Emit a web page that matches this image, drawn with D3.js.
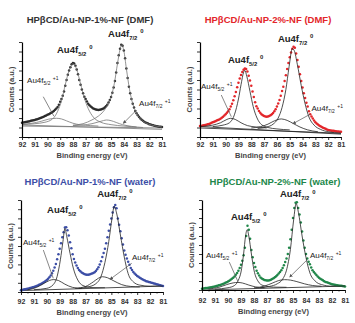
<!DOCTYPE html>
<html lang="en">
<head>
<meta charset="UTF-8">
<title>XPS Au4f</title>
<script src="https://cdn.jsdelivr.net/npm/d3@7"></script>
<style>
    body { margin: 0; background: #fff; }
    text { font-family: "Liberation Sans", Arial, sans-serif; }
</style>
</head>
<body>
<script type="text/javascript">
    // binding energy of each measured point (eV)
    var energy = [
        92, 91.9, 91.8, 91.7, 91.6, 91.5, 91.4, 91.3, 91.2, 91.1,
        91, 90.9, 90.8, 90.7, 90.6, 90.5, 90.4, 90.3, 90.2, 90.1,
        90, 89.9, 89.8, 89.7, 89.6, 89.5, 89.4, 89.3, 89.2, 89.1,
        89, 88.9, 88.8, 88.7, 88.6, 88.5, 88.4, 88.3, 88.2, 88.1,
        88, 87.9, 87.8, 87.7, 87.6, 87.5, 87.4, 87.3, 87.2, 87.1,
        87, 86.9, 86.8, 86.7, 86.6, 86.5, 86.4, 86.3, 86.2, 86.1,
        86, 85.9, 85.8, 85.7, 85.6, 85.5, 85.4, 85.3, 85.2, 85.1,
        85, 84.9, 84.8, 84.7, 84.6, 84.5, 84.4, 84.3, 84.2, 84.1,
        84, 83.9, 83.8, 83.7, 83.6, 83.5, 83.4, 83.3, 83.2, 83.1,
        83, 82.9, 82.8, 82.7, 82.6, 82.5, 82.4, 82.3, 82.2, 82.1,
        82, 81.9, 81.8, 81.7, 81.6, 81.5, 81.4, 81.3, 81.2, 81.1,
        81];
    var xTicks = [92, 91, 90, 89, 88, 87, 86, 85, 84, 83, 82, 81];

    // measured counts (a.u.)
    var dmf1Counts = [
        15, 15.2, 15.5, 15.8, 16.1, 16.4, 16.7, 17, 17.3, 17.6,
        18, 18.4, 18.8, 19.2, 19.7, 20.2, 20.8, 21.4, 22, 22.6,
        23.3, 24, 24.7, 25.5, 26.4, 27.4, 28.6, 30, 31.7, 34,
        37, 40, 43.5, 48, 54, 60, 65.5, 70, 73.5, 76.5,
        78, 77.5, 75, 71, 66, 60, 55, 50, 46, 42.5,
        40, 37.5, 35, 33.5, 32, 31, 30.1, 29.4, 28.9, 28.6,
        28.5, 28.6, 28.9, 29.4, 30.1, 31, 32.3, 34, 36.2, 39,
        42, 46.5, 52, 59, 68, 78, 86, 93, 97, 96,
        91, 83, 72, 62, 53, 46, 40, 35, 31, 27.5,
        25, 23, 21, 19.5, 18.2, 17, 16.1, 15.3, 14.7, 14.1,
        13.5, 13.1, 12.7, 12.3, 11.9, 11.5, 11.3, 11.1, 10.9, 10.7,
        10.5];
    var dmf2Counts = [
        11.5, 11.7, 12, 12.3, 12.6, 13, 13.4, 13.8, 14.3, 14.9,
        15.5, 16.1, 16.7, 17.3, 17.9, 18.5, 19.3, 20.3, 21.4, 22.6,
        24, 25.5, 27.2, 29.3, 32, 35, 38.8, 43, 47.5, 52.3,
        57, 61.5, 65.3, 68.5, 70.8, 72, 71.5, 69, 64.5, 59.5,
        54, 48, 42, 36.5, 32.5, 30, 27.5, 25.5, 24, 23,
        22, 21.6, 21.4, 21.5, 22, 23, 24, 25.3, 27, 29.3,
        32, 35.3, 39, 43.5, 48.5, 53, 59, 65, 71.5, 78,
        84, 89, 93, 95, 94, 88, 81, 74, 66, 59,
        52, 46, 41, 36, 32, 27, 24, 21.5, 19.5, 17.5,
        15.5, 14.3, 13.1, 12.1, 11.2, 10.5, 9.8, 9.2, 8.6, 8,
        7.5, 7.2, 6.9, 6.7, 6.5, 6.3, 6.1, 5.9, 5.7, 5.6,
        5.5];
    var water1Counts = [
        2, 2.3, 2.6, 2.9, 3.2, 3.5, 3.9, 4.3, 4.7, 5.1,
        5.5, 6, 6.5, 7.1, 7.8, 8.5, 9.3, 10.1, 11, 12,
        13, 14.4, 16, 18, 20.3, 23, 26.5, 30.5, 35.5, 41,
        47, 53, 59.5, 65, 70, 70.5, 67, 61.5, 54, 47.5,
        41, 36, 32, 28.7, 26, 24, 22.5, 21.3, 20.3, 19.6,
        19, 18.8, 18.8, 19, 19.5, 20, 20.7, 21.6, 22.9, 24.7,
        27, 30, 33.5, 38, 42.5, 47, 53, 59.5, 66.5, 73.5,
        80, 86.5, 92, 94.5, 91, 80, 73, 66, 58.5, 51.5,
        45, 40.5, 36.5, 33, 29.5, 26, 23.8, 21.8, 20.2, 18.8,
        17.5, 16.5, 15.5, 14.6, 13.8, 13, 12.4, 11.8, 11.3, 10.9,
        10.5, 10.1, 9.7, 9.3, 8.9, 8.5, 8.1, 7.7, 7.3, 6.9,
        6.5];
    var water2Counts = [
        1.5, 1.7, 1.9, 2.1, 2.3, 2.5, 2.8, 3.1, 3.4, 3.7,
        4, 4.4, 4.8, 5.2, 5.6, 6, 6.6, 7.3, 8, 8.7,
        9.5, 10.4, 11.4, 12.5, 13.7, 15, 17, 19, 21.5, 24.5,
        28, 32.5, 38.5, 47, 60, 71.5, 67, 57, 44.5, 36.5,
        30, 25.5, 21.5, 18.5, 16, 14, 12.8, 11.9, 11.2, 10.8,
        10.5, 10.6, 10.9, 11.5, 12.2, 13, 14.1, 15.3, 16.7, 18.2,
        20, 22, 24.5, 27.5, 31, 35, 40, 47, 56.5, 67,
        80, 91, 97, 97.5, 91, 84, 75, 65, 55, 47,
        40, 35, 31.5, 28.5, 25, 22, 20, 18.3, 16.7, 15.1,
        13.5, 12.5, 11.6, 10.7, 9.8, 9, 8.5, 8, 7.5, 7,
        6.5, 6.2, 5.9, 5.6, 5.3, 5, 4.8, 4.6, 4.4, 4.2,
        4];

    // fitted components [eV, counts]
    var dmf1Fit52 = [[92, 13], [91, 14], [90.2, 15.5], [89.6, 19], [89.2, 27], [88.9, 38], [88.6, 55], [88.3, 70],
        [88, 77], [87.7, 71], [87.4, 56], [87.1, 41], [86.8, 30], [86.4, 21], [85.8, 15.5], [85, 13], [84, 11.5], [83, 10.5]];
    var dmf1Fit72 = [[88, 12.5], [87.2, 14], [86.5, 18], [86, 22], [85.6, 27], [85.3, 33], [85, 42], [84.75, 56],
        [84.5, 77], [84.3, 92], [84.17, 97], [84, 91], [83.8, 72], [83.55, 50], [83.3, 35], [83, 25], [82.7, 19],
        [82.3, 15], [81.8, 12.5], [81, 10.5]];
    var dmf1Sat52 = [[92, 13.5], [91.2, 14.5], [90.5, 16.5], [89.9, 18.8], [89.3, 19.7], [88.9, 19], [88.5, 17],
        [88, 14.5], [87.4, 12.8], [86.6, 12], [86, 11.5]];
    var dmf1Sat72 = [[88, 12], [87.2, 12.6], [86.5, 14], [86, 15.8], [85.6, 17.3], [85.35, 17.9], [85, 17.2],
        [84.6, 15.3], [84.1, 13], [83.4, 11.2], [82.5, 10]];
    var dmf1Bg = [[[92, 12.6], [81, 8]], [[92, 11.5], [81, 9.5]]];

    var dmf2Fit52 = [[91, 11], [90.2, 12.5], [89.7, 15], [89.3, 24], [89, 40], [88.8, 55], [88.6, 68], [88.5, 70],
        [88.35, 64], [88.1, 48], [87.85, 32], [87.55, 20], [87.2, 13], [86.7, 10], [86, 8.5], [85, 7.5]];
    var dmf2Fit72 = [[87.5, 9], [86.8, 10.5], [86.3, 13.5], [85.9, 20], [85.6, 31], [85.3, 50], [85.05, 74], [84.8, 93],
        [84.65, 91], [84.4, 76], [84.1, 54], [83.8, 35], [83.5, 21], [83.1, 12.5], [82.6, 8], [82, 5.5], [81, 4]];
    var dmf2Sat52 = [[92, 11], [91, 12.5], [90.4, 15], [89.9, 18.5], [89.6, 19.7], [89.25, 18.5], [88.8, 15], [88.3, 12],
        [87.6, 10.5], [86.8, 9.5]];
    var dmf2Sat72 = [[88, 9.5], [87.3, 10.8], [86.7, 13.5], [86.2, 17], [85.65, 19], [85.2, 17.5], [84.7, 14], [84.2, 10.5],
        [83.6, 7.5], [82.8, 5.5]];
    var dmf2Bg = [[[92, 11], [81, 3]], [[92, 9.5], [81, 4]]];

    var water1Fit52 = [[91, 2.5], [90, 4], [89.5, 8], [89.2, 17], [88.95, 35], [88.75, 55], [88.6, 69], [88.45, 60],
        [88.2, 42], [87.95, 26], [87.6, 13], [87.2, 7], [86.5, 4.8], [85.5, 4.6]];
    var water1Fit72 = [[87.5, 4], [86.8, 5.5], [86.2, 9], [85.8, 17], [85.5, 32], [85.2, 55], [84.95, 80], [84.78, 93],
        [84.6, 86], [84.3, 62], [84, 38], [83.7, 20], [83.3, 11], [82.8, 7.5], [82, 6.3], [81, 6.5]];
    var water1Sat52 = [[91.5, 2.3], [90.8, 5], [90.2, 9.5], [89.8, 12.5], [89.5, 13.5], [89.1, 12.5], [88.6, 8.5],
        [88, 5], [87.3, 3.8]];
    var water1Sat72 = [[87.8, 4], [87, 6], [86.4, 11], [86, 15], [85.7, 16.6], [85.3, 15.5], [84.8, 12], [84.2, 8],
        [83.5, 6], [82.8, 5.5]];
    var water1Bg = [[[92, 1.5], [81, 6.5]]];

    var water2Fit52 = [[91, 1], [90, 2.5], [89.5, 5], [89.2, 11], [89, 20], [88.8, 40], [88.65, 60], [88.52, 67],
        [88.4, 60], [88.2, 40], [88, 22], [87.7, 10], [87.3, 5], [86.5, 3.2], [85.5, 3]];
    var water2Fit72 = [[87.5, 2.5], [86.8, 4], [86.2, 7], [85.8, 12], [85.5, 22], [85.2, 45], [84.95, 78], [84.76, 96],
        [84.58, 86], [84.3, 60], [84, 36], [83.7, 19], [83.3, 10], [82.8, 6], [82, 4.2], [81, 4.4]];
    var water2Sat52 = [[91.5, 1], [90.7, 3], [90.1, 6], [89.6, 7.9], [89.25, 8.4], [88.9, 7.8], [88.4, 5.5], [87.9, 3.5],
        [87.2, 2.4]];
    var water2Sat72 = [[88, 2.4], [87.2, 4.3], [86.6, 7.6], [86.1, 10.5], [85.65, 11.5], [85.2, 11], [84.7, 9.3],
        [84.1, 6.8], [83.5, 5], [82.8, 4.2]];
    var water2Bg = [[[92, 0], [81, 4.4]]];

    var titles = ['HPβCD/Au-NP-1%-NF (DMF)', 'HPβCD/Au-NP-2%-NF (DMF)',
        'HPβCD/Au-NP-1%-NF (water)', 'HPβCD/Au-NP-2%-NF (water)'];

    var panels = [
        {title: titles[0], color: '#333', dot: '#2b2b2b', fitColor: '#777', counts: dmf1Counts,
            fits: [dmf1Fit52, dmf1Fit72, dmf1Sat52, dmf1Sat72], bg: dmf1Bg,
            box: {left: 22, right: 162, top: 42, bottom: 137}, cx: 90, ty: 23, pad: 2, gap: 21,
            lab52: [89.25, 88.4], lab72: [85.24, 105], sat52: [91.6, 56.8, 90.33, 42.4, 89.5, 22],
            sat72: [82.8, 32.6, 83.0, 28.4, 84.04, 14.4]},
        {title: titles[1], color: '#e3262a', dot: '#e3262a', fitColor: '#222', counts: dmf2Counts,
            fits: [dmf2Fit52, dmf2Fit72, dmf2Sat52, dmf2Sat72], bg: dmf2Bg,
            box: {left: 200, right: 341, top: 42, bottom: 137}, cx: 268, ty: 23, pad: 2, gap: 21,
            lab52: [89.82, 77.9], lab72: [85.92, 100], sat52: [91.92, 50.5, 90.34, 44.2, 89.56, 21.4],
            sat72: [83.3, 27.5, 83.4, 24, 84.75, 14]},
        {title: titles[2], color: '#3c4ea6', dot: '#3c4ea6', fitColor: '#222', counts: water1Counts,
            fits: [water1Fit52, water1Fit72, water1Sat52, water1Sat72], bg: water1Bg,
            box: {left: 21, right: 163, top: 200, bottom: 292}, cx: 90, ty: 185, pad: 4, gap: 23,
            lab52: [89.98, 85.9], lab72: [86.1, 103], sat52: [91.85, 51, 90.27, 45.6, 89.5, 14.9],
            sat72: [83.4, 34.8, 83.42, 31.2, 85.1, 13.8]},
        {title: titles[3], color: '#21874a', dot: '#21874a', fitColor: '#222', counts: water2Counts,
            fits: [water2Fit52, water2Fit72, water2Sat52, water2Sat72], bg: water2Bg,
            box: {left: 202, right: 345, top: 200, bottom: 290}, cx: 275, ty: 185, pad: 5, gap: 24,
            lab52: [89.77, 77.8], lab72: [86.0, 103], sat52: [91.69, 35.6, 89.9, 31, 89.25, 9.8],
            sat72: [83.7, 35.6, 83.95, 33, 85.25, 14.5]}
    ];

    var svg = d3.select('body').append('svg')
            .attr('width', 355)
            .attr('height', 323);

    svg.append('defs').append('marker')
            .attr('id', 'arr')
            .attr('viewBox', '0 0 6 6')
            .attr('refX', 5).attr('refY', 3)
            .attr('markerWidth', 5).attr('markerHeight', 5)
            .attr('orient', 'auto')
            .append('path')
            .attr('d', 'M0,0L6,3L0,6z')
            .attr('fill', '#555');

    function peakLabel(g, px, py, sub, sup, bold, size) {
        var t = g.append('text')
                .attr('x', px).attr('y', py)
                .attr('font-size', size)
                .attr('font-weight', bold ? 'bold' : 'normal')
                .attr('fill', '#222');
        t.append('tspan').text('Au4f');
        t.append('tspan').attr('font-size', size * 0.62).attr('dy', size * 0.28).text(sub);
        t.append('tspan').attr('font-size', size * 0.62).attr('dx', size * 0.3).attr('dy', -size * 0.68).text(sup);
    }

    panels.forEach(function (p) {
        var x = d3.scaleLinear().domain([92, 81]).range([p.box.left, p.box.right]);
        var y = d3.scaleLinear().domain([0, 100]).range([p.box.bottom, p.box.top]);
        var g = svg.append('g');

        g.append('text')
                .attr('x', p.cx).attr('y', p.ty)
                .attr('text-anchor', 'middle')
                .attr('font-size', 9.5)
                .attr('font-weight', 'bold')
                .attr('fill', p.color)
                .text(p.title);

        var line = d3.line()
                .x(function (d) { return x(d[0]); })
                .y(function (d) { return y(d[1]); });

        // background lines
        g.selectAll('.bg')
                .data(p.bg)
                .enter()
                .append('path')
                .attr('d', line)
                .attr('fill', 'none')
                .attr('stroke', p.fitColor)
                .attr('stroke-width', 0.8);

        // measured points
        g.selectAll('.dot')
                .data(p.counts)
                .enter()
                .append('circle')
                .attr('cx', function (d, i) { return x(energy[i]); })
                .attr('cy', function (d) { return y(d); })
                .attr('r', 1.25)
                .attr('fill', p.dot);

        // fitted components
        var curve = d3.line()
                .x(function (d) { return x(d[0]); })
                .y(function (d) { return y(d[1]); })
                .curve(d3.curveMonotoneX);
        g.selectAll('.fit')
                .data(p.fits)
                .enter()
                .append('path')
                .attr('d', curve)
                .attr('fill', 'none')
                .attr('stroke', p.fitColor)
                .attr('stroke-width', 0.8);

        // axes
        var minor = d3.axisBottom(x).tickValues(d3.range(91.5, 81, -1)).tickSize(1.5).tickFormat('');
        g.append('g').attr('transform', 'translate(0,' + p.box.bottom + ')').call(minor)
                .call(function (a) { a.select('.domain').remove(); });
        var xAxis = d3.axisBottom(x).tickValues(xTicks).tickSize(3).tickSizeOuter(0).tickPadding(p.pad)
                .tickFormat(d3.format('d'));
        var xg = g.append('g').attr('transform', 'translate(0,' + p.box.bottom + ')').call(xAxis);
        xg.selectAll('text').attr('font-size', 7).attr('font-weight', 'bold').attr('fill', '#333')
                .style('font-family', '"Liberation Sans", Arial, sans-serif');

        var yAxis = d3.axisLeft(y).tickValues(d3.range(0, 101, 10)).tickSize(3).tickSizeOuter(0).tickFormat('');
        g.append('g').attr('transform', 'translate(' + p.box.left + ',0)').call(yAxis);
        g.selectAll('.domain').attr('stroke-width', 1.2);
        g.selectAll('.tick line').attr('stroke-width', 0.8);

        g.append('text')
                .attr('x', (p.box.left + p.box.right) / 2).attr('y', p.box.bottom + p.gap)
                .attr('text-anchor', 'middle')
                .attr('font-size', 7.5).attr('font-weight', 'bold').attr('fill', '#444')
                .text('Binding energy (eV)');
        g.append('text')
                .attr('transform', 'translate(' + (p.box.left - 8) + ',' + ((p.box.top + p.box.bottom) / 2) + ') rotate(-90)')
                .attr('text-anchor', 'middle')
                .attr('font-size', 7.5).attr('font-weight', 'bold').attr('fill', '#444')
                .text('Counts (a.u.)');

        // peak labels
        peakLabel(g, x(p.lab52[0]), y(p.lab52[1]), '5/2', '0', true, 9.5);
        peakLabel(g, x(p.lab72[0]), y(p.lab72[1]), '7/2', '0', true, 9.5);
        peakLabel(g, x(p.sat52[0]), y(p.sat52[1]), '5/2', '+1', false, 8);
        peakLabel(g, x(p.sat72[0]), y(p.sat72[1]), '7/2', '+1', false, 8);

        g.append('line')
                .attr('x1', x(p.sat52[2])).attr('y1', y(p.sat52[3]))
                .attr('x2', x(p.sat52[4])).attr('y2', y(p.sat52[5]))
                .attr('stroke', '#555').attr('stroke-width', 0.7);
        g.append('line')
                .attr('x1', x(p.sat72[2])).attr('y1', y(p.sat72[3]))
                .attr('x2', x(p.sat72[4])).attr('y2', y(p.sat72[5]))
                .attr('stroke', '#555').attr('stroke-width', 0.7)
                .attr('marker-end', 'url(#arr)');
    });
</script>
</body>
</html>
